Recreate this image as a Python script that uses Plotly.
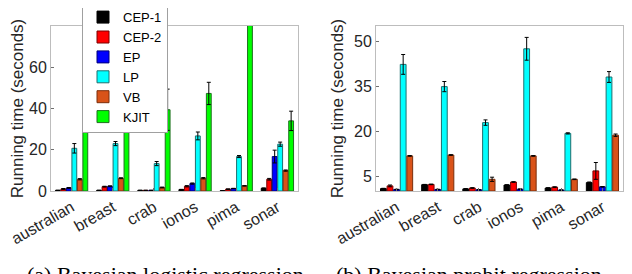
import plotly.graph_objects as go

datasets = ["australian", "breast", "crab", "ionos", "pima", "sonar"]
methods = ["CEP-1", "CEP-2", "EP", "LP", "VB", "KJIT"]
colors = ["#000000", "#ff0000", "#0000ff", "#00ffff", "#d95319", "#00ff00"]
edges = ["#000000", "#7a0000", "#00007a", "#1f6f6f", "#7a2e0c", "#1f6f1f"]

# (a) Bayesian logistic regression
logit_vals = {
    "CEP-1": [0.3, 0.3, 0.3, 0.7, 0.1, 1.3],
    "CEP-2": [1.0, 2.1, 0.3, 2.3, 0.9, 5.7],
    "EP":    [1.5, 2.3, 0.3, 3.6, 1.2, 16.7],
    "LP":    [20.7, 23.0, 13.3, 26.7, 16.7, 22.7],
    "VB":    [5.7, 6.2, 1.7, 6.2, 2.5, 9.9],
    "KJIT":  [40.0, 31.3, 39.4, 47.3, 95.0, 34.0],
}
logit_err = {
    "CEP-1": [0.1, 0.1, 0.1, 0.1, 0.05, 0.2],
    "CEP-2": [0.2, 0.2, 0.1, 0.3, 0.1, 0.4],
    "EP":    [0.2, 0.2, 0.1, 0.3, 0.1, 3.1],
    "LP":    [2.3, 1.0, 1.0, 1.9, 0.5, 1.0],
    "VB":    [0.3, 0.2, 0.2, 0.3, 0.1, 0.3],
    "KJIT":  [10.0, 1.3, 10.0, 5.4, 0.0, 4.7],
}

# (b) Bayesian probit regression
probit_vals = {
    "CEP-1": [0.8, 2.1, 0.7, 2.0, 1.0, 2.8],
    "CEP-2": [1.7, 2.2, 1.0, 3.0, 1.3, 6.7],
    "EP":    [0.5, 0.5, 0.4, 0.6, 0.3, 1.4],
    "LP":    [42.2, 34.8, 22.8, 47.4, 19.2, 38.0],
    "VB":    [11.7, 12.0, 3.9, 11.7, 3.9, 18.6],
}
probit_err = {
    "CEP-1": [0.1, 0.1, 0.1, 0.1, 0.1, 0.2],
    "CEP-2": [0.3, 0.1, 0.1, 0.1, 0.1, 2.8],
    "EP":    [0.1, 0.1, 0.1, 0.1, 0.1, 0.1],
    "LP":    [3.3, 1.7, 0.9, 3.8, 0.2, 1.8],
    "VB":    [0.1, 0.1, 0.7, 0.1, 0.1, 0.4],
}

font_sans = "Liberation Sans, Arial, sans-serif"
font_serif = "Liberation Serif, Times New Roman, serif"
txt = "#262626"

fig = go.Figure()
for i, m in enumerate(methods):
    fig.add_trace(go.Bar(
        x=datasets, y=logit_vals[m], name=m,
        marker=dict(color=colors[i], line=dict(color=edges[i], width=1)),
        error_y=dict(type="data", array=logit_err[m], color="black", thickness=1, width=2),
        xaxis="x", yaxis="y", showlegend=True,
    ))
for i, m in enumerate(methods[:5]):
    fig.add_trace(go.Bar(
        x=datasets, y=probit_vals[m], name=m,
        marker=dict(color=colors[i], line=dict(color=edges[i], width=1)),
        error_y=dict(type="data", array=probit_err[m], color="black", thickness=1, width=2),
        xaxis="x2", yaxis="y2", showlegend=False,
    ))

axis_common = dict(
    showline=True, linecolor="#bdbdbd", linewidth=1, mirror=True,
    ticks="inside", tickcolor="#6e6e6e", ticklen=3,
    tickfont=dict(family=font_sans, size=16, color=txt),
    showgrid=False, zeroline=False, automargin=False,
)
ydom = [1 - 183 / 274, 1 - 18 / 274]
ytitle = dict(text="Running time (seconds)", standoff=6,
              font=dict(family=font_sans, size=17, color=txt))
fig.update_layout(
    width=632, height=274,
    margin=dict(l=0, r=0, t=0, b=0, autoexpand=False),
    paper_bgcolor="white", plot_bgcolor="white",
    barmode="group", bargap=0.2, bargroupgap=0.12,
    font=dict(family=font_sans, size=15, color=txt),
    xaxis=dict(domain=[43 / 632, 290 / 632], anchor="y", tickangle=-30, **axis_common),
    yaxis=dict(domain=ydom, anchor="x", range=[0, 80], tickvals=[0, 20, 40, 60],
               title=ytitle, **axis_common),
    xaxis2=dict(domain=[368 / 632, 615 / 632], anchor="y2", tickangle=-30, **axis_common),
    yaxis2=dict(domain=ydom, anchor="x2", range=[0, 55], tickvals=[5, 20, 35, 50],
                title=ytitle, **axis_common),
    legend=dict(x=74 / 632, y=1.025, xanchor="left", yanchor="top",
                bgcolor="white", bordercolor="#a0a0a0", borderwidth=1,
                font=dict(family=font_sans, size=13, color="black"),
                tracegroupgap=0, itemwidth=30),
    annotations=[
        dict(text="(a) Bayesian logistic regression", xref="paper", yref="paper",
             x=157 / 632, y=1 - 252 / 274, xanchor="center", yanchor="top", showarrow=False,
             font=dict(family=font_serif, size=22, color="black")),
        dict(text="(b) Bayesian probit regression", xref="paper", yref="paper",
             x=326 / 632, y=1 - 252 / 274, xanchor="left", yanchor="top", showarrow=False,
             font=dict(family=font_serif, size=22, color="black")),
    ],
)

fig.write_html("out.html")
